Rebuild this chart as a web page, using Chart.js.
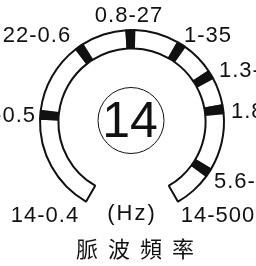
<!DOCTYPE html>
<html>
<head>
<meta charset="utf-8">
<script src="https://cdn.jsdelivr.net/npm/chart.js@4.4.1/dist/chart.umd.min.js"></script>
<style>
html,body{margin:0;padding:0;background:#fff;overflow:hidden;}
#wrap{position:relative;width:256px;height:266px;}
#pulse_dial{display:block;width:256px;height:266px;}
</style>
</head>
<body>
<div id="wrap"><canvas id="pulse_dial" width="256" height="266"></canvas></div>
<script>
// dial: 300 degree scale starting bottom-left, ticks in degrees along it
const dial_start = -150;
const dial_span = 300;
const tick_angles = [64.5, 115, 149, 182.5, 209, 232, 273.5];
const tick_width = 5;
const range_labels = ['14-0.4', '-0.5', '22-0.6', '0.8-27', '1-35', '1.3-', '1.8-', '5.6-', '14-500'];
const center_value = '14';
const unit_label = '(Hz)';
const chart_title = '脈波頻率';

// where each range label sits [x, baseline y, align]
const label_pos = [
    [45, 222, 'center'], [36, 122, 'right'], [37, 42, 'center'], [129, 22, 'center'],
    [208, 42, 'center'], [219, 77, 'left'], [231, 118, 'left'], [214, 188, 'left'],
    [218, 222, 'center']
];

let seg_sizes = [];
let seg_colors = [];
let seg_borders = [];
let prev = 0;
for (var i in tick_angles) {
    let t = tick_angles[i];
    seg_sizes.push(t - tick_width / 2 - prev);
    seg_colors.push('#ffffff');
    seg_borders.push(2);
    seg_sizes.push(tick_width);
    seg_colors.push('#111111');
    seg_borders.push(2);
    prev = t + tick_width / 2;
}
seg_sizes.push(dial_span - prev);
seg_colors.push('#ffffff');
seg_borders.push(2);
// the open part at the bottom
seg_sizes.push(360 - dial_span);
seg_colors.push('rgba(0,0,0,0)');
seg_borders.push(0);

const dialText = {
    id: 'dialText',
    afterDraw(chart) {
        const ctx = chart.ctx;
        const arc = chart.getDatasetMeta(0).data[0];
        ctx.save();
        ctx.fillStyle = '#111';
        ctx.textBaseline = 'alphabetic';
        ctx.font = '22px "Liberation Sans", Arial, sans-serif';
        ctx.letterSpacing = '1px';
        range_labels.forEach((txt, i) => {
            ctx.textAlign = label_pos[i][2];
            ctx.fillText(txt, label_pos[i][0], label_pos[i][1]);
        });
        ctx.letterSpacing = '2px';
        ctx.textAlign = 'center';
        ctx.fillText(unit_label, 132, 220);

        // inner circle with the value
        ctx.beginPath();
        ctx.arc(arc.x - 1, arc.y - 1.5, 33, 0, Math.PI * 2);
        ctx.strokeStyle = '#111';
        ctx.lineWidth = 1;
        ctx.stroke();
        ctx.letterSpacing = '0px';
        ctx.font = '50px "Liberation Sans", Arial, sans-serif';
        ctx.fillText(center_value, 130, 137);

        ctx.font = '22px "Noto Sans CJK TC", sans-serif';
        ctx.letterSpacing = '10px';
        ctx.fillText(chart_title, 140, 257);
        ctx.restore();
    }
};

const ctx = document.getElementById('pulse_dial');
new Chart(ctx, {
    type: 'doughnut',
    data: {
        labels: seg_sizes.map((v, i) => 's' + i),
        datasets: [
            {
                data: seg_sizes,
                backgroundColor: seg_colors,
                borderColor: '#111111',
                borderWidth: seg_borders,
                hoverOffset: 0
            }
        ]
    },
    options: {
        responsive: false,
        animation: false,
        rotation: dial_start,
        circumference: 360,
        radius: 92,
        cutout: '80%',
        layout: {
            padding: {left: 40, right: 32, top: 30, bottom: 52}
        },
        plugins: {
            legend: {display: false},
            tooltip: {enabled: false}
        }
    },
    plugins: [dialText]
});
</script>
</body>
</html>
